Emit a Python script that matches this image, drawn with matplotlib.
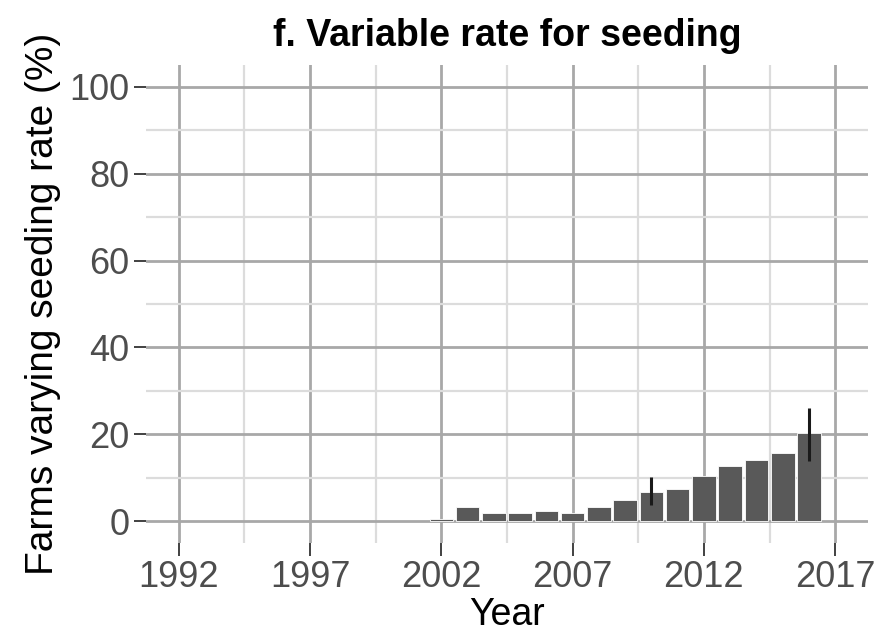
import matplotlib
matplotlib.use("Agg")
import matplotlib.pyplot as plt
from matplotlib.ticker import FixedLocator, MultipleLocator

plt.rcParams['font.family'] = ['Liberation Sans', 'DejaVu Sans']

# share of farms varying seeding rate, by survey year
years = [2002, 2003, 2004, 2005, 2006, 2007, 2008, 2009,
         2010, 2011, 2012, 2013, 2014, 2015, 2016]
pct = [0.5, 3.2, 1.8, 1.8, 2.3, 1.8, 3.2, 4.8,
       6.8, 7.5, 10.5, 12.8, 14.1, 15.6, 20.2]

# confidence intervals shown only for some years
err_years = [2010, 2016]
err_low = [3.8, 13.8]
err_high = [10.1, 26.1]

x_ticks = [1992, 1997, 2002, 2007, 2012, 2017]
y_ticks = [0, 20, 40, 60, 80, 100]

fig = plt.figure(figsize=(8.87, 6.4), dpi=100)
ax = fig.add_axes([0.1646, 0.1516, 0.814, 0.7468])

ax.bar(years, pct, width=0.9, color='#595959', edgecolor='white',
       linewidth=0.6, zorder=3)

for yr, lo, hi in zip(err_years, err_low, err_high):
    ax.vlines(yr, lo, hi, color='#1a1a1a', linewidth=2.2, zorder=4)

ax.set_xlim(1990.75, 2018.25)
ax.set_ylim(-5, 105)
ax.set_xticks(x_ticks)
ax.set_yticks(y_ticks)
# minor grid halfway between the major breaks
x_minor = [(a + b) / 2 for a, b in zip(x_ticks[:-1], x_ticks[1:])]
ax.xaxis.set_minor_locator(FixedLocator(x_minor))
ax.yaxis.set_minor_locator(MultipleLocator(10))

ax.grid(which='major', color='#a8a8a8', linewidth=2.0, zorder=0)
ax.grid(which='minor', color='#dcdcdc', linewidth=1.6, zorder=0)
ax.set_axisbelow(True)

for s in ax.spines.values():
    s.set_visible(False)

ax.tick_params(which='major', length=9, width=1.3, color='#333333',
               labelsize=26, labelcolor='#4d4d4d', pad=3)
ax.tick_params(which='minor', length=0)

ax.set_xlabel('Year', fontsize=27, color='black', labelpad=2)
ax.set_ylabel('Farms varying seeding rate (%)', fontsize=28, color='black',
              labelpad=6)
ax.set_title('f. Variable rate for seeding', fontsize=27, fontweight='bold',
             pad=14)

fig.savefig('out.png', dpi=100, facecolor='white')
